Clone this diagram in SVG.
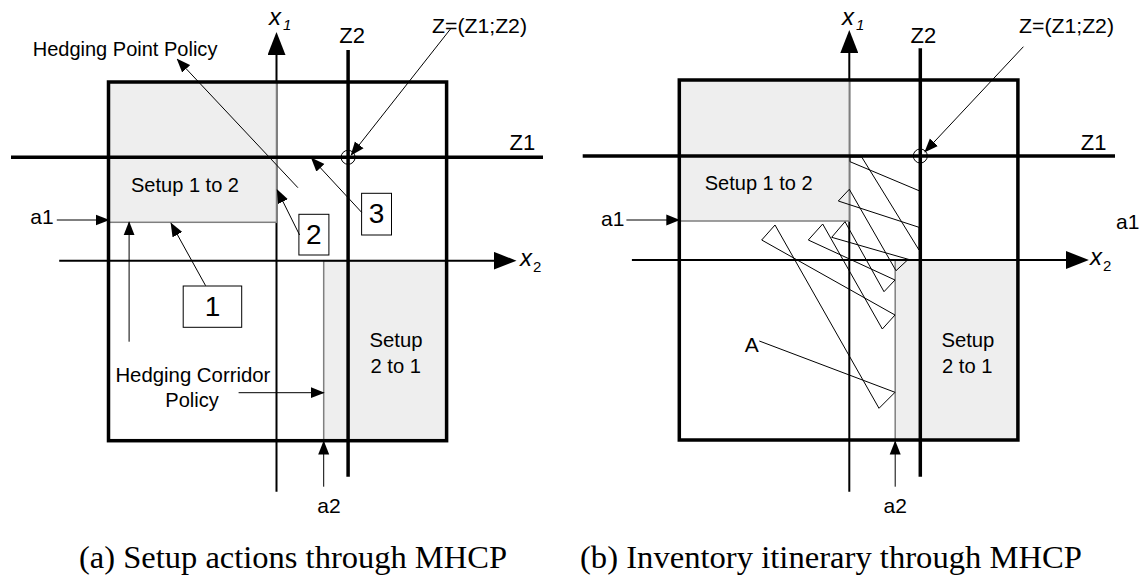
<svg xmlns="http://www.w3.org/2000/svg" width="1141" height="581" viewBox="0 0 1141 581">
<defs>
<marker id="ah" markerUnits="userSpaceOnUse" markerWidth="14" markerHeight="12" refX="13" refY="6" orient="auto"><path d="M0,0.5 L14,6 L0,11.5 z" fill="#000"/></marker>
<marker id="axh" markerUnits="userSpaceOnUse" markerWidth="23" markerHeight="18" refX="19" refY="9" orient="auto"><path d="M0,0 L23,9 L0,18 z" fill="#000"/></marker>
</defs>
<style>
.t{font-family:"Liberation Sans",Arial,sans-serif;font-size:21px;fill:#000}
.z{font-size:22px}
.num{font-size:28px}
.box{fill:none;stroke:#000;stroke-width:3.5}
.zl{stroke:#000;stroke-width:3.5;fill:none}
.ax{stroke:#000;stroke-width:2;fill:none}
.setup{fill:#eeeeee;stroke:#7f7f7f;stroke-width:1.5}
.ptr{stroke:#000;stroke-width:1;fill:none}
.arr{marker-end:url(#ah)}
.tag{fill:#fff;stroke:#000;stroke-width:1}
.cap{font-family:"Liberation Serif","Times New Roman",serif;font-size:32px;fill:#000}
.it{font-style:italic;font-size:24px}
</style>
<rect width="1141" height="581" fill="#fff"/>

<!-- ===== Panel (a) ===== -->
<g id="panel-a">
  <g id="a-x1-axis"><line class="ax" x1="276.5" y1="491.7" x2="276.5" y2="36" marker-end="url(#axh)"/></g>
  <g id="a-setup12"><rect class="setup" x="108.5" y="82" width="168" height="140.3"/><text class="t" x="131" y="191.5" textLength="108" lengthAdjust="spacingAndGlyphs">Setup 1 to 2</text></g>
  <g id="a-setup21"><rect class="setup" x="323.7" y="260.7" width="122.9" height="180"/><text class="t" x="369.5" y="347" textLength="53" lengthAdjust="spacingAndGlyphs">Setup</text><text class="t" x="370.5" y="372.7" textLength="50.5" lengthAdjust="spacingAndGlyphs">2 to 1</text></g>
  <g id="a-z1"><line class="zl" x1="11" y1="157.3" x2="543" y2="157.3"/><text class="t z" x="509.6" y="150">Z1</text></g>
  <g id="a-z2"><line class="zl" x1="348.1" y1="50" x2="348.1" y2="476.7"/><text class="t z" x="339.2" y="43.3">Z2</text></g>
  <g id="a-x2-axis"><line class="ax" x1="59.2" y1="260.7" x2="512.5" y2="260.7" marker-end="url(#axh)"/><text class="t it" x="520" y="266">x<tspan font-size="15" font-style="normal" dx="1" dy="6">2</tspan></text></g>
  <g id="a-frame"><rect class="box" x="108.5" y="82" width="338.1" height="358.7"/></g>
  <g id="a-x1-label"><text class="t it" x="269" y="25">x<tspan font-size="15" dx="2" dy="5">1</tspan></text></g>
  <g id="a-hp"><circle class="ptr" cx="348.1" cy="157.3" r="7"/><text class="t" x="432" y="32.5" textLength="95" lengthAdjust="spacingAndGlyphs">Z=(Z1;Z2)</text></g>
  <g id="a-hpp-label"><text class="t" x="32.7" y="56" textLength="184.7" lengthAdjust="spacingAndGlyphs">Hedging Point Policy</text></g>
  <g id="a-hcp-label"><text class="t" x="115.4" y="381.5" textLength="155" lengthAdjust="spacingAndGlyphs">Hedging Corridor</text><text class="t" x="165.3" y="406.5" textLength="53.5" lengthAdjust="spacingAndGlyphs">Policy</text></g>
  <g id="a-a1"><text class="t" x="30.3" y="224">a1</text></g>
  <g id="a-a2"><text class="t" x="329" y="513" text-anchor="middle">a2</text></g>
  <g id="a-box1"><rect class="tag" x="183.2" y="286" width="58.5" height="41.3"/><text class="t num" x="212.5" y="316" text-anchor="middle">1</text></g>
  <g id="a-box2"><rect class="tag" x="298.9" y="214.3" width="30" height="40.7"/><text class="t num" x="313.9" y="244" text-anchor="middle">2</text></g>
  <g id="a-box3"><rect class="tag" x="361.6" y="193.3" width="29.9" height="41.7"/><text class="t num" x="376.5" y="222.5" text-anchor="middle">3</text></g>
</g>

<g id="connectors-a" class="ptr">
  <line class="arr" x1="297.9" y1="187.7" x2="177.3" y2="59.3"/>
  <line class="arr" x1="56.8" y1="220" x2="108.5" y2="220"/>
  <line class="arr" x1="129.1" y1="341.7" x2="129.1" y2="222.3"/>
  <line class="arr" x1="205.6" y1="285.7" x2="171.1" y2="223.3"/>
  <line class="arr" x1="299.6" y1="235" x2="277.2" y2="190"/>
  <line class="arr" x1="361.6" y1="212.3" x2="311.6" y2="158.3"/>
  <line class="arr" x1="451" y1="28.3" x2="351.2" y2="155"/>
  <line class="arr" x1="238.6" y1="392.7" x2="323.7" y2="392.7"/>
  <line class="arr" x1="323.7" y1="486.7" x2="323.7" y2="441.5"/>
</g>

<!-- ===== Panel (b) ===== -->
<g id="panel-b">
  <g id="b-x1-axis"><line class="ax" x1="849.3" y1="491.7" x2="849.3" y2="34" marker-end="url(#axh)"/></g>
  <g id="b-setup12"><rect class="setup" x="679.3" y="80" width="170" height="141"/><text class="t" x="704.7" y="190" textLength="108" lengthAdjust="spacingAndGlyphs">Setup 1 to 2</text></g>
  <g id="b-setup21"><rect class="setup" x="895.2" y="260" width="122.7" height="180"/><text class="t" x="941.4" y="347" textLength="53" lengthAdjust="spacingAndGlyphs">Setup</text><text class="t" x="942" y="372.7" textLength="50.5" lengthAdjust="spacingAndGlyphs">2 to 1</text></g>
</g>
<g id="connectors-b" class="ptr">
  <polyline points="895,392.3 879,408.3 775,225 761.7,240 895,315 882.3,329 822.7,224 808.3,240 895,280 884,291.7 845,221.7 831.7,237.3 908.3,259.3 896,270.7 849.3,189.3 838.3,201 919,227.3 919,250 861.7,157 850,157 850,161.7 919,190.7"/>
  <line x1="759.3" y1="341" x2="895" y2="392.3"/>
  <line class="arr" x1="626.4" y1="220" x2="679.3" y2="220"/>
  <line class="arr" x1="1023.4" y1="46.7" x2="925" y2="151.7"/>
  <line class="arr" x1="895.2" y1="486.7" x2="895.2" y2="441.5"/>
</g>
<g id="panel-b-top">
  <g id="b-z1"><line class="zl" x1="582.7" y1="156" x2="1115" y2="156"/><text class="t z" x="1080.7" y="149.5">Z1</text></g>
  <g id="b-z2"><line class="zl" x1="920.3" y1="48.3" x2="920.3" y2="476.7"/><text class="t z" x="910.5" y="43">Z2</text></g>
  <g id="b-x2-axis"><line class="ax" x1="631.9" y1="260" x2="1084.9" y2="260" marker-end="url(#axh)"/><text class="t it" x="1090" y="265">x<tspan font-size="15" font-style="normal" dx="1" dy="6">2</tspan></text></g>
  <g id="b-frame"><rect class="box" x="679.3" y="80" width="338.6" height="360"/></g>
  <g id="b-x1-label"><text class="t it" x="842" y="25">x<tspan font-size="15" dx="2" dy="5">1</tspan></text></g>
  <g id="b-hp"><circle class="ptr" cx="920.3" cy="156" r="7"/><text class="t" x="1019" y="32.5" textLength="95" lengthAdjust="spacingAndGlyphs">Z=(Z1;Z2)</text></g>
  <g id="b-A"><text class="t" x="744.8" y="351.7">A</text></g>
  <g id="b-a1"><text class="t" x="601" y="226">a1</text></g>
  <g id="b-a1-right"><text class="t" x="1116" y="229">a1</text></g>
  <g id="b-a2"><text class="t" x="895.2" y="513" text-anchor="middle">a2</text></g>
</g>

<g id="captions">
  <text class="cap" x="79" y="568" textLength="428" lengthAdjust="spacingAndGlyphs">(a) Setup actions through MHCP</text>
  <text class="cap" x="580" y="568" textLength="502" lengthAdjust="spacingAndGlyphs">(b) Inventory itinerary through MHCP</text>
</g>
</svg>
